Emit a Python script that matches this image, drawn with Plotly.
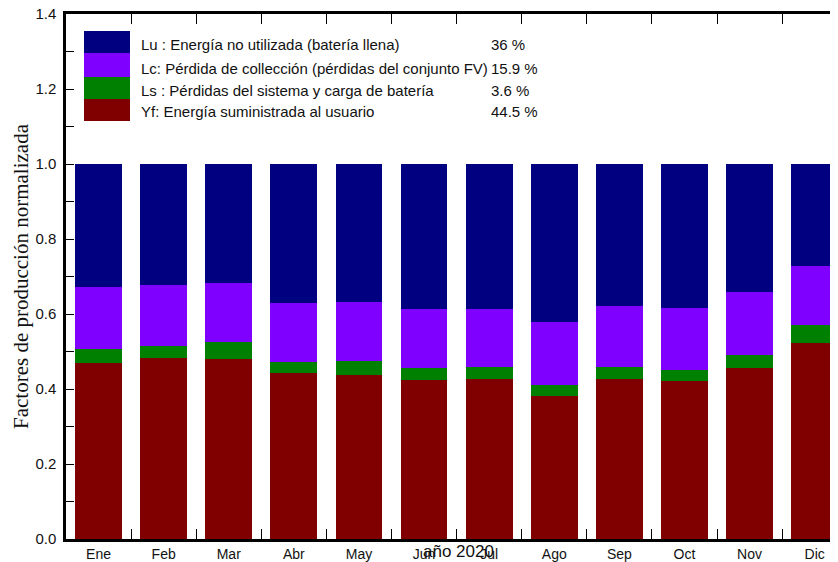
import plotly.graph_objects as go

months = ["Ene", "Feb", "Mar", "Abr", "May", "Jun", "Jul", "Ago", "Sep", "Oct", "Nov", "Dic"]
yf = [0.470, 0.482, 0.480, 0.442, 0.438, 0.424, 0.426, 0.382, 0.426, 0.421, 0.456, 0.524]
ls = [0.037, 0.034, 0.045, 0.031, 0.036, 0.031, 0.032, 0.030, 0.033, 0.029, 0.035, 0.046]
lc = [0.166, 0.161, 0.158, 0.156, 0.158, 0.159, 0.156, 0.167, 0.162, 0.166, 0.167, 0.159]
lu = [0.327, 0.323, 0.317, 0.371, 0.368, 0.386, 0.386, 0.421, 0.379, 0.384, 0.342, 0.271]

legend_labels = [
    "Lu : Energía no utilizada (batería llena)",
    "Lc: Pérdida de collección (pérdidas del conjunto FV)",
    "Ls : Pérdidas del sistema y carga de batería",
    "Yf: Energía suministrada al usuario",
]
legend_pcts = ["36 %", "15.9 %", "3.6 %", "44.5 %"]
colors = ["#000080", "#8000FF", "#008000", "#800000"]

fig = go.Figure()
for vals, col, name in zip([yf, ls, lc, lu], colors[::-1], legend_labels[::-1]):
    fig.add_trace(go.Bar(x=months, y=vals, marker=dict(color=col, line=dict(width=0)),
                         name=name, showlegend=False))

# page body has an 8px margin: figure is offset by 8px in the screenshot
OFF = 8
W, H = 838 - OFF, 562 - OFF
plot_left, plot_top, plot_bottom = 66, 14, 539   # screen pixels
ml, mr, mt = plot_left - OFF, 0, plot_top - OFF
mb = H - (plot_bottom - OFF)
pw = W - ml - mr
ph = H - mt - mb

def px_x(x):
    return (x - plot_left) / pw

def px_y(y):
    return (plot_bottom - y) / ph

# custom legend: stacked colour blocks + texts
block_edges = [31, 53, 77, 99, 121]
text_rows = [45, 68, 90, 112]
shapes = []
for i, col in enumerate(colors):
    shapes.append(dict(type="rect", xref="paper", yref="paper",
                       x0=px_x(84), x1=px_x(130), y0=px_y(block_edges[i + 1]), y1=px_y(block_edges[i]),
                       fillcolor=col, line=dict(width=0), layer="above"))
annotations = []
for i in range(4):
    annotations.append(dict(xref="paper", yref="paper", x=px_x(139), y=px_y(text_rows[i]),
                            text=legend_labels[i], showarrow=False, xanchor="left", yanchor="middle",
                            font=dict(family="Liberation Sans, Arial", size=15, color="#111")))
    annotations.append(dict(xref="paper", yref="paper", x=px_x(489), y=px_y(text_rows[i]),
                            text=legend_pcts[i], showarrow=False, xanchor="left", yanchor="middle",
                            font=dict(family="Liberation Sans, Arial", size=15, color="#111")))
annotations.append(dict(xref="paper", yref="paper", x=px_x(458), y=px_y(551),
                        text="año 2020", showarrow=False, xanchor="center", yanchor="middle",
                        font=dict(family="Liberation Sans, Arial", size=17, color="#111")))

fig.update_layout(
    width=W, height=H, barmode="stack", bargap=0.28,
    margin=dict(l=ml, r=mr, t=mt, b=mb, autoexpand=False),
    plot_bgcolor="white", paper_bgcolor="white",
    shapes=shapes, annotations=annotations,
    xaxis=dict(range=[-0.5, -0.5 + pw / 65.1], showline=True, linecolor="black", linewidth=2.5,
               mirror="ticks", ticks="inside", ticklen=10, tickcolor="black", tickwidth=1.2,
               tickson="boundaries", showgrid=False, automargin=False,
               tickfont=dict(family="Liberation Sans, Arial", size=14, color="#111")),
    yaxis=dict(range=[0, 1.4], dtick=0.2, tickformat=".1f", showline=True, linecolor="black",
               linewidth=2.5, ticks="inside", ticklen=8, tickcolor="black", tickwidth=1,
               minor=dict(dtick=0.1, ticks="inside", ticklen=8, tickcolor="black", tickwidth=1),
               showgrid=False, zeroline=False, ticklabelstandoff=4, automargin=False,
               ticklabeloverflow="allow",
               tickfont=dict(family="Liberation Sans, Arial", size=15, color="#111"),
               title=dict(text="Factores de producción normalizada", standoff=2,
                          font=dict(family="Liberation Serif, Times New Roman", size=21, color="#111"))),
)

fig.write_html("out.html")
